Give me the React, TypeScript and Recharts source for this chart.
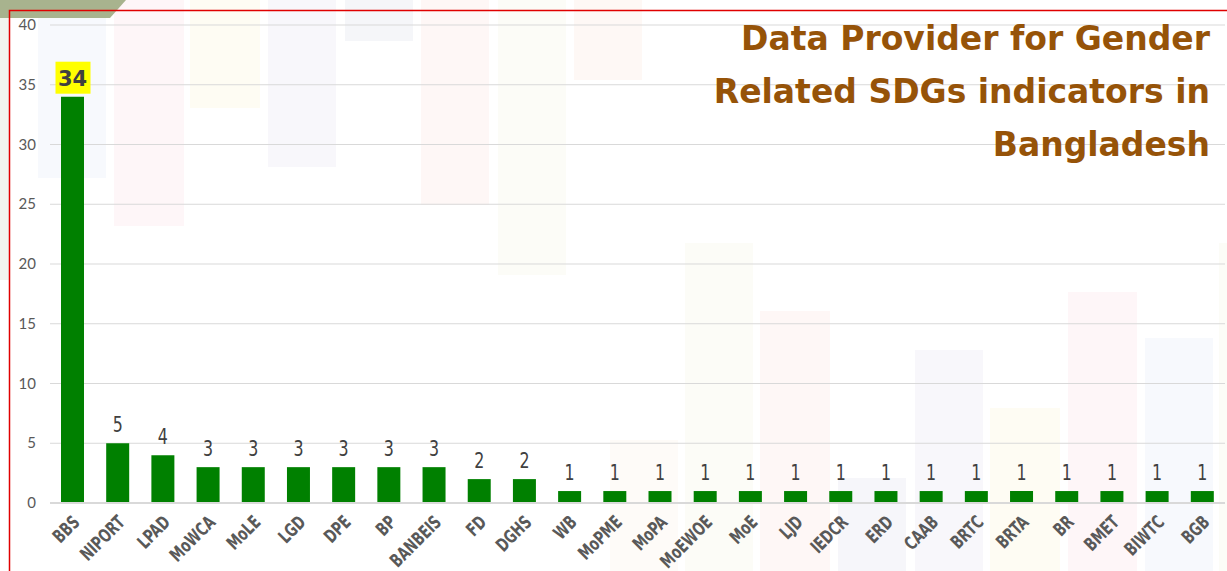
import React from 'react';
import { BarChart, Bar, XAxis, YAxis, CartesianGrid, LabelList } from 'recharts';

const providers = [
  'BBS', 'NIPORT', 'LPAD', 'MoWCA', 'MoLE', 'LGD', 'DPE', 'BP', 'BANBEIS', 'FD', 'DGHS',
  'WB', 'MoPME', 'MoPA', 'MoEWOE', 'MoE', 'LJD', 'IEDCR', 'ERD', 'CAAB', 'BRTC', 'BRTA',
  'BR', 'BMET', 'BIWTC', 'BGB',
];
const indicatorCounts = [34, 5, 4, 3, 3, 3, 3, 3, 3, 2, 2, 1, 1, 1, 1, 1, 1, 1, 1, 1, 1, 1, 1, 1, 1, 1];
const yTicks = [0, 5, 10, 15, 20, 25, 30, 35, 40];
const titleLines = ['Data Provider for Gender', 'Related SDGs indicators in', 'Bangladesh'];

const data = providers.map((name, i) => ({ name, value: indicatorCounts[i] }));

const narrow = "'Liberation Sans Narrow', 'DejaVu Sans Condensed', 'Roboto', sans-serif";

// faint slide-background panels behind the plot (decoration only)
const bgPanels = [
  { l: 38, t: 0, w: 68, h: 178, c: '#e8eef8' },
  { l: 114, t: 0, w: 70, h: 226, c: '#fbe6ea' },
  { l: 190, t: 0, w: 70, h: 108, c: '#fdf6dc' },
  { l: 268, t: 0, w: 68, h: 167, c: '#ece8f4' },
  { l: 345, t: 0, w: 68, h: 41, c: '#e2e4ee' },
  { l: 421, t: 0, w: 68, h: 205, c: '#fbe8e6' },
  { l: 498, t: 0, w: 68, h: 275, c: '#f6f7e8' },
  { l: 574, t: 0, w: 68, h: 80, c: '#fcece2' },
  { l: 610, t: 440, w: 68, h: 131, c: '#fbf3ea' },
  { l: 685, t: 243, w: 68, h: 328, c: '#f6f7e8' },
  { l: 760, t: 311, w: 70, h: 260, c: '#fbe8e6' },
  { l: 838, t: 478, w: 68, h: 93, c: '#e6e6f2' },
  { l: 915, t: 350, w: 68, h: 221, c: '#ece8f4' },
  { l: 990, t: 408, w: 70, h: 163, c: '#fdf6dc' },
  { l: 1068, t: 292, w: 69, h: 279, c: '#fbe6ea' },
  { l: 1145, t: 338, w: 68, h: 233, c: '#e8eef8' },
  { l: 1219, t: 243, w: 10, h: 328, c: '#f6f7e8' },
];

const CategoryTick = (props: any) => {
  const { x, y, payload } = props;
  return (
    <g transform={`translate(${x + 1},${y + 5})`}>
      <text
        transform="rotate(-45) scale(0.9,1.15)"
        textAnchor="end"
        dy={9}
        fontFamily={narrow}
        fontWeight={700}
        fontSize={16}
        fill="#595959"
      >
        {payload.value}
      </text>
    </g>
  );
};

const ValueTick = (props: any) => {
  const { y, payload } = props;
  return (
    <text x={36} y={y} dy={5} textAnchor="end" fontFamily="'Lato', 'DejaVu Sans', sans-serif" fontSize={15} fill="#595959">
      {payload.value}
    </text>
  );
};

const ValueLabel = (props: any) => {
  const { x, y, width, value, index } = props;
  const cx = x + width / 2;
  if (index === 0) {
    return (
      <g>
        <rect x={cx - 17} y={y - 35} width={35} height={32} fill="#ffff00" />
        <text x={cx} y={y - 11} textAnchor="middle" fontFamily="'DejaVu Sans', sans-serif" fontWeight={700} fontSize={21} fill="#404040">
          {value}
        </text>
      </g>
    );
  }
  return (
    <g transform={`translate(${cx},${y - 11}) scale(0.8,1)`}>
      <text x={0} y={0} textAnchor="middle" fontFamily={narrow} fontSize={22} fill="#404040">
        {value}
      </text>
    </g>
  );
};

export default function App() {
  return (
    <div style={{ position: 'relative', width: 1227, height: 571, background: '#fff', overflow: 'hidden' }}>
      <style>{'body{margin:0}'}</style>
      {bgPanels.map((p, i) => (
        <div
          key={i}
          style={{ position: 'absolute', left: p.l, top: p.t, width: p.w, height: p.h, background: p.c, opacity: 0.35 }}
        />
      ))}
      <div style={{ position: 'absolute', left: 0, top: 0, width: 9, height: 280, background: '#f2f5ee' }} />
      <div style={{ position: 'absolute', left: 0, top: 0 }}>
        <BarChart width={1227} height={571} data={data} margin={{ top: 25, right: 2, left: 0, bottom: 0 }}>
          <CartesianGrid vertical={false} stroke="#d9d9d9" />
          <XAxis
            dataKey="name"
            interval={0}
            height={68}
            tick={<CategoryTick />}
            tickLine={false}
            axisLine={{ stroke: '#d9d9d9', strokeWidth: 2 }}
          />
          <YAxis
            width={50}
            domain={[0, 40]}
            ticks={yTicks}
            tick={<ValueTick />}
            axisLine={false}
            tickLine={false}
          />
          <Bar dataKey="value" fill="#008000" barSize={23} isAnimationActive={false}>
            <LabelList dataKey="value" content={<ValueLabel />} />
          </Bar>
        </BarChart>
      </div>
      <svg width={1227} height={571} style={{ position: 'absolute', left: 0, top: 0, pointerEvents: 'none' }}>
        <polygon points="0,0 126,0 110,18 0,18" fill="#a8b38e" />
        <polyline points="9.5,571 9.5,10.5 1227,10.5" fill="none" stroke="#e00000" strokeWidth={1.5} />
      </svg>
      <div
        style={{
          position: 'absolute',
          right: 17,
          top: 12,
          textAlign: 'right',
          fontFamily: "'DejaVu Sans', sans-serif",
          fontWeight: 700,
          fontSize: 33,
          lineHeight: '53px',
          color: '#965308',
        }}
      >
        {titleLines.map((t) => (
          <div key={t}>{t}</div>
        ))}
      </div>
    </div>
  );
}
